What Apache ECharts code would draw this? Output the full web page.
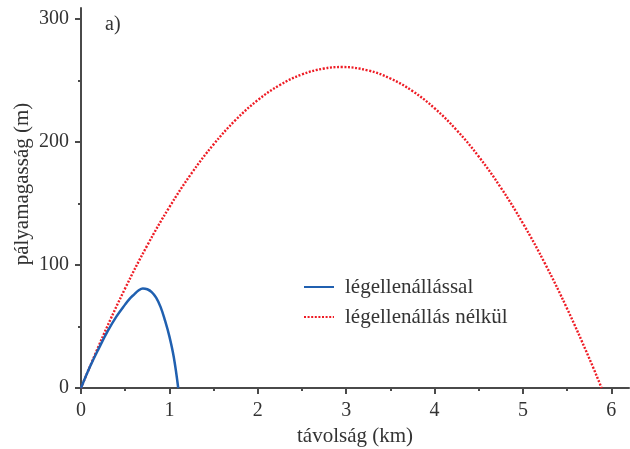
<!DOCTYPE html>
<html>
<head>
<meta charset="utf-8">
<script src="https://cdn.jsdelivr.net/npm/echarts@6/dist/echarts.min.js"></script>
<style>
  html, body { margin: 0; padding: 0; background: #fff; }
  #chart { width: 630px; height: 449px; }
</style>
</head>
<body>
<div id="chart"></div>
<script>
// with air drag
const dragX = [0, 0.1, 0.2, 0.3, 0.4, 0.5, 0.55, 0.6, 0.65, 0.7, 0.75, 0.8, 0.85, 0.9, 0.95, 1.0, 1.05, 1.1]
const dragY = [0, 17, 32, 46, 58, 68, 72.5, 76, 79.3, 81, 80.3, 78, 73.5, 66, 55, 42, 25, 0]

// without air drag
const noDragX = [0, 0.25, 0.5, 0.75, 1, 1.25, 1.5, 1.75, 2, 2.25, 2.5, 2.75, 2.95, 3.25, 3.5, 3.75, 4, 4.25, 4.5, 4.75, 5, 5.25, 5.5, 5.75, 5.89]
const noDragY = [0, 42.4, 81.1, 116, 147.1, 174.5, 198.1, 218, 234.1, 246.4, 255, 259.8, 261, 258.2, 251.7, 241.5, 227.5, 209.7, 188.2, 162.9, 133.9, 101.1, 64.5, 24.2, 0]

const xTicks = [0, 1, 2, 3, 4, 5, 6]
const xMinor = [0.5, 1.5, 2.5, 3.5, 4.5, 5.5]
const yTicks = [0, 100, 200, 300]
const yMinor = [50, 150, 250]

const seriesNames = ['légellenállással', 'légellenállás nélkül']

const font = 'Liberation Serif'
const ink = '#333'
const axisColor = '#4a4a4a'

const chart = echarts.init(document.getElementById('chart'))

const baseX = {
  type: 'value', min: 0, max: 6.2,
  splitLine: { show: false }
}
const baseY = {
  type: 'value', min: 0, max: 309,
  splitLine: { show: false }
}

chart.setOption({
  animation: false,
  grid: { left: 81, right: 1, top: 8, bottom: 61, containLabel: false, outerBoundsMode: 'none' },
  textStyle: { fontFamily: font },
  legend: {
    orient: 'vertical',
    left: 298,
    top: 271,
    itemWidth: 30,
    itemHeight: 14,
    itemGap: 8,
    itemStyle: { opacity: 0 },
    textStyle: { fontFamily: font, fontSize: 21, color: ink, lineHeight: 22, padding: [0, 0, 0, 6] },
    data: seriesNames
  },
  xAxis: [
    Object.assign({}, baseX, {
      name: 'távolság (km)',
      nameLocation: 'middle',
      nameGap: 38,
      nameTextStyle: { fontFamily: font, fontSize: 21, color: ink },
      axisLine: { lineStyle: { color: axisColor, width: 2 } },
      axisTick: { show: true, inside: false, length: 6, customValues: xTicks, lineStyle: { color: axisColor, width: 2 } },
      axisLabel: { customValues: xTicks, margin: 13, fontFamily: font, fontSize: 20, color: ink }
    }),
    Object.assign({}, baseX, {
      position: 'bottom',
      axisLine: { show: false },
      axisTick: { show: true, length: 3, customValues: xMinor, lineStyle: { color: axisColor, width: 2 } },
      axisLabel: { show: false }
    })
  ],
  yAxis: [
    Object.assign({}, baseY, {
      axisLine: { show: true, lineStyle: { color: axisColor, width: 2 } },
      axisTick: { show: true, length: 6, customValues: yTicks, lineStyle: { color: axisColor, width: 2 } },
      axisLabel: { customValues: yTicks, margin: 12, fontFamily: font, fontSize: 20, color: ink }
    }),
    Object.assign({}, baseY, {
      position: 'left',
      axisLine: { show: false },
      axisTick: { show: true, length: 3, customValues: yMinor, lineStyle: { color: axisColor, width: 2 } },
      axisLabel: { show: false }
    })
  ],
  graphic: [
    {
      type: 'text', left: 105, top: 15,
      style: { text: 'a)', font: '20px "Liberation Serif"', fill: ink }
    },
    {
      type: 'text', x: 22, y: 184, rotation: Math.PI / 2,
      style: { text: 'pályamagasság (m)', font: '21px "Liberation Serif"', fill: ink, align: 'center', verticalAlign: 'middle' }
    }
  ],
  series: [
    {
      name: seriesNames[0],
      type: 'line',
      smooth: 0.4,
      symbol: 'none',
      z: 3,
      lineStyle: { color: '#2060b0', width: 2.5 },
      itemStyle: { color: '#2060b0' },
      data: dragX.map((x, i) => [x, dragY[i]])
    },
    {
      name: seriesNames[1],
      type: 'line',
      smooth: 0.4,
      symbol: 'none',
      z: 2,
      lineStyle: { color: '#ee1c25', width: 2.4, type: [2, 1.6] },
      itemStyle: { color: '#ee1c25' },
      data: noDragX.map((x, i) => [x, noDragY[i]])
    }
  ]
})
</script>
</body>
</html>
